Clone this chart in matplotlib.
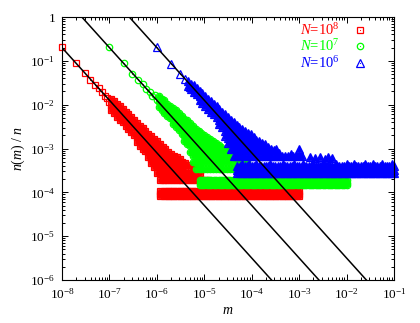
import numpy as np
import matplotlib
matplotlib.use('Agg')
import matplotlib.pyplot as plt
from matplotlib.legend_handler import HandlerTuple

plt.rcParams.update({
    'font.family': ['Liberation Serif', 'DejaVu Serif'],
    'mathtext.fontset': 'custom',
    'mathtext.rm': 'Liberation Serif',
    'mathtext.it': 'Liberation Serif:italic',
    'mathtext.bf': 'Liberation Serif:bold',
    'axes.linewidth': 0.8,
})

# ---------------- data (log10 values) ----------------
labels = [r'$N$=10$^{8}$', r'$N$=10$^{7}$', r'$N$=10$^{6}$']
colors = ['#ff0000', '#00ff00', '#0000ff']
markers = ['s', 'o', '^']

# fitted power laws  n(m)/n = amp * (m N)^slope
line_N = [1e8, 1e7, 1e6]
line_amp = 0.2
line_slope = -1.2

# ---- N = 1e8 (red) ----
red_sparse_lm = [-8.00, -7.70, -7.52, -7.40, -7.30, -7.22, -7.155, -7.10, -7.046, -7.00]
red_sparse_ly = [-0.68, -1.06, -1.27, -1.44, -1.55, -1.63, -1.72, -1.80, -1.84, -1.93]
red_cols_lm = [-6.96, -6.90, -6.84, -6.78, -6.72, -6.66, -6.60, -6.54, -6.48, -6.42,
               -6.36, -6.30, -6.24, -6.18, -6.12, -6.06, -6.00, -5.94, -5.88, -5.82,
               -5.76, -5.70, -5.64, -5.58, -5.52, -5.46, -5.40, -5.34, -5.28, -5.22,
               -5.16, -5.10, -5.04, -4.98, -4.92]
red_cols_ly = [
    [-1.86, -2.00, -2.12], [-1.92, -2.06, -2.20], [-1.98, -2.12, -2.28],
    [-2.04, -2.18, -2.34], [-2.10, -2.25, -2.40], [-2.16, -2.32, -2.48],
    [-2.22, -2.38, -2.55], [-2.28, -2.44, -2.62], [-2.35, -2.52, -2.70],
    [-2.42, -2.58, -2.74, -2.86], [-2.48, -2.64, -2.80, -2.94],
    [-2.54, -2.70, -2.86, -3.00], [-2.60, -2.76, -2.92, -3.06],
    [-2.66, -2.82, -2.95, -3.08, -3.20],
    [-2.72, -2.88, -3.00, -3.13, -3.25, -3.33],
    [-2.78, -2.93, -3.03, -3.13, -3.25, -3.33, -3.43],
    [-2.84, -2.98, -3.08, -3.18, -3.25, -3.33, -3.43, -3.55],
    [-2.90, -3.03, -3.13, -3.25, -3.33, -3.43, -3.55, -3.73],
    [-2.96, -3.08, -3.18, -3.25, -3.33, -3.43, -3.55, -3.73],
    [-3.02, -3.13, -3.25, -3.33, -3.43, -3.55, -3.73],
    [-3.08, -3.18, -3.25, -3.33, -3.43, -3.55, -3.73],
    [-3.13, -3.25, -3.33, -3.43, -3.55, -3.73],
    [-3.18, -3.25, -3.33, -3.43, -3.55, -3.73],
    [-3.20, -3.33, -3.43, -3.55, -3.73],
    [-3.25, -3.33, -3.43, -3.55, -3.73],
    [-3.30, -3.43, -3.55, -3.73],
    [-3.33, -3.43, -3.55, -3.73],
    [-3.38, -3.55, -3.73], [-3.43, -3.55, -3.73], [-3.43, -3.55, -3.73],
    [-3.55, -3.73], [-3.55, -3.73], [-3.73], [-3.73], [-3.73]]
red_plat_lm = [-5.93,
               -5.85, -5.80, -5.75, -5.70, -5.65, -5.60, -5.55, -5.50, -5.45, -5.40,
               -5.35, -5.30, -5.25, -5.20, -5.15, -5.10, -5.05, -5.00, -4.95, -4.90,
               -4.85, -4.80, -4.75, -4.70, -4.65, -4.60, -4.55, -4.50, -4.45, -4.40,
               -4.35, -4.30, -4.25, -4.20, -4.15, -4.10, -4.05, -4.00, -3.95, -3.90,
               -3.85, -3.80, -3.75, -3.70, -3.65, -3.60, -3.55, -3.50, -3.45, -3.40,
               -3.35, -3.30, -3.25, -3.20, -3.15, -3.10, -3.05, -3.00]
red_plat_rows = [-4.08, -4.03, -3.98]

# ---- N = 1e7 (green) ----
green_sparse_lm = [-7.00, -6.70, -6.52, -6.40, -6.30, -6.22, -6.155, -6.10, -6.046, -6.00]
green_sparse_ly = [-0.68, -1.05, -1.30, -1.44, -1.52, -1.65, -1.70, -1.80, -1.78, -1.90]
green_cols_lm = [-5.96, -5.90, -5.84, -5.78, -5.72, -5.66, -5.60, -5.54, -5.48, -5.42,
                 -5.36, -5.30, -5.24, -5.18, -5.12, -5.06, -5.00, -4.94, -4.88, -4.82,
                 -4.76, -4.70, -4.64, -4.58, -4.52, -4.46, -4.40, -4.34, -4.28, -4.22,
                 -4.16, -4.10, -4.04, -3.98, -3.92]
green_cols_ly = [
    [-1.80, -1.93, -2.05], [-1.86, -2.00, -2.12], [-1.90, -2.05, -2.18],
    [-1.98, -2.12, -2.25], [-2.02, -2.16, -2.30],
    [-2.08, -2.22, -2.36, -2.45], [-2.12, -2.26, -2.40, -2.52],
    [-2.20, -2.32, -2.46, -2.58], [-2.26, -2.38, -2.52, -2.66],
    [-2.32, -2.44, -2.58, -2.72, -2.82], [-2.36, -2.50, -2.64, -2.78, -2.90],
    [-2.42, -2.56, -2.70, -2.82, -2.95, -3.08],
    [-2.48, -2.62, -2.76, -2.88, -3.00, -3.08, -3.17, -3.30],
    [-2.55, -2.68, -2.80, -2.92, -3.00, -3.08, -3.17, -3.30, -3.47],
    [-2.60, -2.72, -2.85, -2.95, -3.00, -3.08, -3.17, -3.30, -3.47],
    [-2.64, -2.76, -2.88, -3.00, -3.08, -3.17, -3.30, -3.47],
    [-2.70, -2.82, -2.92, -3.00, -3.08, -3.17, -3.30, -3.47],
    [-2.74, -2.86, -2.96, -3.04, -3.17, -3.30, -3.47],
    [-2.78, -2.90, -3.00, -3.08, -3.17, -3.30, -3.47],
    [-2.82, -2.94, -3.04, -3.17, -3.30, -3.47],
    [-2.88, -3.00, -3.08, -3.17, -3.30, -3.47],
    [-2.92, -3.04, -3.17, -3.30, -3.47],
    [-2.96, -3.08, -3.17, -3.30, -3.47],
    [-3.04, -3.10, -3.17, -3.30, -3.47],
    [-3.06, -3.17, -3.30, -3.47], [-3.08, -3.17, -3.30, -3.47],
    [-3.12, -3.20, -3.30, -3.47], [-3.17, -3.30, -3.47], [-3.17, -3.30, -3.47],
    [-3.20, -3.30, -3.47], [-3.30, -3.47], [-3.30, -3.47], [-3.47], [-3.47], [-3.47]]
green_plat_lm = [-5.10, -5.05, -5.00, -4.95, -4.90, -4.85, -4.80, -4.75, -4.70, -4.65,
                 -4.60, -4.55, -4.50, -4.45, -4.40, -4.35, -4.30, -4.25, -4.20, -4.15,
                 -4.10, -4.05, -4.00, -3.95, -3.90, -3.85, -3.80, -3.75, -3.70, -3.65,
                 -3.60, -3.55, -3.50, -3.45, -3.40, -3.35, -3.30, -3.25, -3.20, -3.15,
                 -3.10, -3.05, -3.00, -2.95, -2.90, -2.85, -2.80, -2.75, -2.70, -2.65,
                 -2.60, -2.55, -2.50, -2.45, -2.40, -2.35, -2.30, -2.25, -2.20, -2.15,
                 -2.10, -2.05, -2.00]
green_plat_rows = [-3.83, -3.78, -3.73]

# ---- N = 1e6 (blue) ----
blue_sparse_lm = [-6.00, -5.70, -5.52, -5.40, -5.30, -5.22, -5.155, -5.10, -5.046, -5.00]
blue_sparse_ly = [-0.68, -1.07, -1.29, -1.42, -1.59, -1.62, -1.70, -1.78, -1.82, -1.88]
blue_cols_lm = [-5.34, -5.28, -5.22, -5.16, -5.10, -5.04, -4.98, -4.92, -4.86, -4.80,
                -4.74, -4.68, -4.62, -4.56, -4.50, -4.44, -4.38, -4.32, -4.26, -4.20,
                -4.14, -4.08, -4.02, -3.96, -3.90, -3.84, -3.78, -3.72, -3.66, -3.60,
                -3.54, -3.48, -3.42, -3.36, -3.30, -3.24, -3.18, -3.12, -3.06, -3.00,
                -2.94, -2.77, -2.66, -2.55, -2.45, -2.39, -2.30]
blue_cols_ly = [
    [-1.46, -1.58], [-1.52, -1.64], [-1.56, -1.70], [-1.62, -1.76],
    [-1.68, -1.80, -1.90], [-1.74, -1.86, -1.96], [-1.80, -1.92, -2.03],
    [-1.86, -1.98, -2.10], [-1.92, -2.04, -2.16], [-1.98, -2.10, -2.22],
    [-2.04, -2.16, -2.28], [-2.10, -2.22, -2.34, -2.45],
    [-2.16, -2.28, -2.40, -2.52], [-2.22, -2.34, -2.46, -2.60, -2.72],
    [-2.28, -2.40, -2.52, -2.64, -2.76, -2.88],
    [-2.34, -2.46, -2.58, -2.70, -2.80, -2.88, -3.00],
    [-2.40, -2.52, -2.62, -2.72, -2.80, -2.88, -3.00, -3.18],
    [-2.46, -2.56, -2.66, -2.76, -2.88, -3.00, -3.18],
    [-2.50, -2.62, -2.72, -2.80, -2.88, -3.00, -3.18],
    [-2.55, -2.66, -2.76, -2.88, -3.00, -3.18],
    [-2.60, -2.70, -2.80, -2.88, -3.00, -3.18],
    [-2.64, -2.74, -2.82, -2.88, -3.00, -3.18],
    [-2.68, -2.78, -2.88, -3.00, -3.18],
    [-2.74, -2.82, -2.88, -3.00, -3.18],
    [-2.80, -2.88, -3.00, -3.18], [-2.84, -2.92, -3.00, -3.18],
    [-2.88, -3.00, -3.18], [-2.90, -3.00, -3.18], [-2.96, -3.06, -3.18],
    [-3.00, -3.18], [-3.04, -3.18], [-3.00, -3.18], [-3.10, -3.18],
    [-3.18], [-3.18], [-3.18], [-3.12, -3.18], [-3.18], [-3.18], [-3.00, -3.18],
    [-3.18], [-3.20], [-3.22], [-3.20], [-3.24], [-3.20], [-3.22]]
blue_plat_lm = [-4.30, -4.25, -4.20, -4.15, -4.10, -4.05, -4.00, -3.95, -3.90, -3.85,
                -3.80, -3.75, -3.70, -3.65, -3.60, -3.55, -3.50, -3.45, -3.40, -3.35,
                -3.30, -3.25, -3.20, -3.15, -3.10, -3.05, -3.00, -2.95, -2.90, -2.85,
                -2.80, -2.75, -2.70, -2.65, -2.60, -2.55, -2.50, -2.45, -2.40, -2.35,
                -2.30, -2.25, -2.20, -2.15, -2.10, -2.05, -2.00, -1.95, -1.90, -1.85,
                -1.80, -1.75, -1.70, -1.65, -1.60, -1.55, -1.50, -1.45, -1.40, -1.35,
                -1.30, -1.25, -1.20, -1.15, -1.10, -1.05, -1.00]
blue_plat_rows = [-3.57, -3.49, -3.41]
blue_top_lm = [-4.20, -4.05, -3.90, -3.62, -3.35, -3.10, -2.92, -2.70, -2.50,
               -2.22, -2.00, -1.85, -1.62, -1.45, -1.25, -1.05]
blue_top_ly = -3.35

# axis ticks
xtick_vals = [1e-8, 1e-7, 1e-6, 1e-5, 1e-4, 1e-3, 1e-2, 1e-1]
xtick_labels = ['10$^{-8}$', '10$^{-7}$', '10$^{-6}$', '10$^{-5}$',
                '10$^{-4}$', '10$^{-3}$', '10$^{-2}$', '10$^{-1}$']
ytick_vals = [1e-6, 1e-5, 1e-4, 1e-3, 1e-2, 1e-1, 1]
ytick_labels = ['10$^{-6}$', '10$^{-5}$', '10$^{-4}$', '10$^{-3}$',
                '10$^{-2}$', '10$^{-1}$', '1']


def collect_dense(cols_lm, cols_ly, plat_lm, plat_rows, top_lm=None, top_ly=None):
    xs, ys = [], []
    for lm, col in zip(cols_lm, cols_ly):
        xs += [lm] * len(col)
        ys += col
    for row in plat_rows:
        xs += plat_lm
        ys += [row] * len(plat_lm)
    if top_lm is not None:
        xs += top_lm
        ys += [top_ly] * len(top_lm)
    return 10 ** np.array(xs), 10 ** np.array(ys)


sparse = [
    (10 ** np.array(red_sparse_lm), 10 ** np.array(red_sparse_ly)),
    (10 ** np.array(green_sparse_lm), 10 ** np.array(green_sparse_ly)),
    (10 ** np.array(blue_sparse_lm), 10 ** np.array(blue_sparse_ly)),
]
dense = [
    collect_dense(red_cols_lm, red_cols_ly, red_plat_lm, red_plat_rows),
    collect_dense(green_cols_lm, green_cols_ly, green_plat_lm, green_plat_rows),
    collect_dense(blue_cols_lm, blue_cols_ly, blue_plat_lm, blue_plat_rows,
                  blue_top_lm, blue_top_ly),
]

fig = plt.figure(figsize=(4.2, 3.23), dpi=100)
ax = fig.add_axes([62 / 420, 1 - 280 / 323, 332 / 420, 263 / 323])

handles = []
for (sx, sy), (dx, dy), c, mk, lab in zip(sparse, dense, colors, markers, labels):
    ms = 4.6 if mk != '^' else 5.2
    # dense clouds: filled core (marks overlap so heavily they read as solid)
    ax.plot(dx, dy, linestyle='none', marker=mk, markersize=ms * 0.7,
            markerfacecolor=c, markeredgecolor=c, markeredgewidth=0.6, clip_on=False)
    allx = np.concatenate([sx, dx])
    ally = np.concatenate([sy, dy])
    h, = ax.plot(allx, ally, linestyle='none', marker=mk, markersize=ms,
                 markerfacecolor='none', markeredgecolor=c, markeredgewidth=0.9,
                 color=c, clip_on=False)
    d, = ax.plot(allx, ally, linestyle='none', marker='.', markersize=1.6,
                 color=c, markeredgewidth=0, clip_on=False)
    handles.append((h, d))

mm = np.array([1e-9, 1.0])
for N in line_N:
    ax.plot(mm, line_amp * (mm * N) ** line_slope, color='black', lw=1.1, zorder=5)

ax.set_xscale('log')
ax.set_yscale('log')
ax.set_xlim(1e-8, 1e-1)
ax.set_ylim(1e-6, 1)
ax.set_xticks(xtick_vals)
ax.set_xticklabels(xtick_labels)
ax.set_yticks(ytick_vals)
ax.set_yticklabels(ytick_labels)
ax.xaxis.set_minor_locator(matplotlib.ticker.LogLocator(base=10, subs=np.arange(2, 10)))
ax.yaxis.set_minor_locator(matplotlib.ticker.LogLocator(base=10, subs=np.arange(2, 10)))
ax.xaxis.set_minor_formatter(matplotlib.ticker.NullFormatter())
ax.yaxis.set_minor_formatter(matplotlib.ticker.NullFormatter())
ax.tick_params(which='both', direction='in', top=True, right=True, labelsize=9.5, width=0.7)
ax.tick_params(which='major', length=4.5, pad=5)
ax.tick_params(which='minor', length=2.5)

ax.set_xlabel(r'$m$', fontsize=10, labelpad=2)
ax.set_ylabel(r'$n(m)\ /\ n$', fontsize=10, labelpad=2)

leg = ax.legend(handles=handles, labels=labels, loc='upper right',
                bbox_to_anchor=(0.945, 1.015),
                handler_map={tuple: HandlerTuple(ndivide=1)},
                frameon=False, markerfirst=False,
                fontsize=10.5, handlelength=1.0, handletextpad=0.9,
                labelspacing=0.05, borderaxespad=0.2)
for t, c in zip(leg.get_texts(), colors):
    t.set_color(c)

fig.savefig('out.png', dpi=100)
